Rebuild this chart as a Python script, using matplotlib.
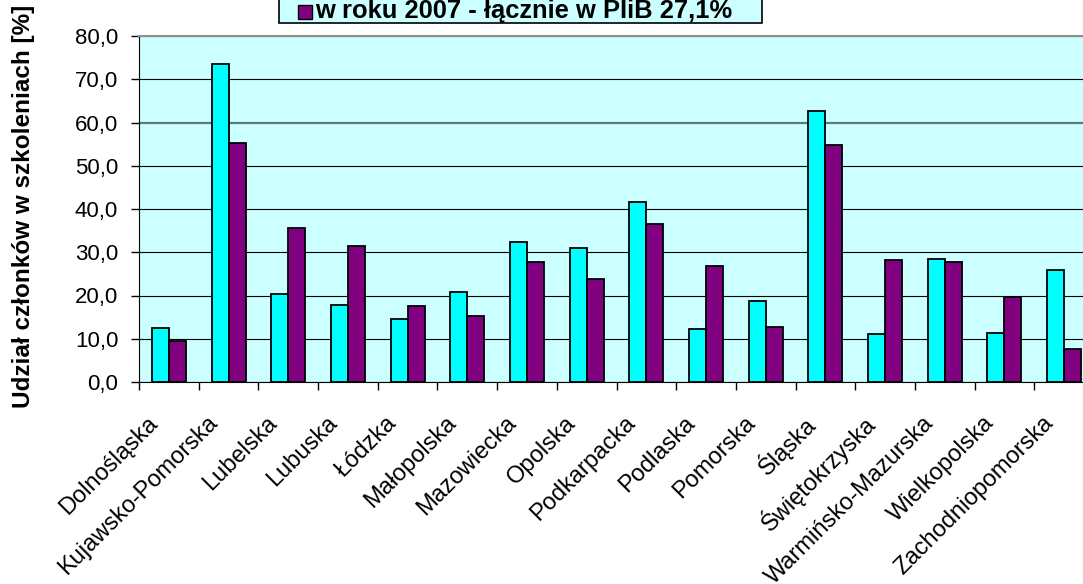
import matplotlib
matplotlib.use("Agg")
import matplotlib.pyplot as plt
from matplotlib.patches import Rectangle
from matplotlib.transforms import ScaledTranslation
import numpy as np

## data
regions = ["Dolnośląska", "Kujawsko-Pomorska", "Lubelska", "Lubuska", "Łódzka",
           "Małopolska", "Mazowiecka", "Opolska", "Podkarpacka", "Podlaska",
           "Pomorska", "Śląska", "Świętokrzyska", "Warmińsko-Mazurska",
           "Wielkopolska", "Zachodniopomorska"]
share_2006 = [12.4, 73.6, 20.4, 17.9, 14.5, 20.8, 32.3, 31.0, 41.6, 12.3,
              18.7, 62.6, 11.0, 28.5, 11.4, 26.0]
share_2007 = [9.4, 55.3, 35.7, 31.5, 17.5, 15.3, 27.7, 23.8, 36.6, 26.8,
              12.8, 54.9, 28.1, 27.7, 19.6, 7.6]
label_2007 = "w roku 2007 - łącznie w PIiB 27,1%"
y_ticks = [0, 10, 20, 30, 40, 50, 60, 70, 80]

plt.rcParams['font.family'] = ['Liberation Sans', 'DejaVu Sans']

W, H = 1083, 584
fig = plt.figure(figsize=(W / 100, H / 100), dpi=100)
fig.patch.set_facecolor("white")

## plot area (right side of the original chart is cropped)
ax = fig.add_axes([139 / W, 1 - 382 / H, (1094 - 139) / W, (382 - 36) / H])
ax.set_facecolor("#ccffff")

x = np.arange(len(regions))
bw = 0.285
ax.bar(x - bw / 2, share_2006, bw, color="#00ffff", edgecolor="black", linewidth=1.3, zorder=3)
ax.bar(x + bw / 2, share_2007, bw, color="#800080", edgecolor="black", linewidth=1.3, zorder=3)

ax.set_xlim(-0.5, len(regions) - 0.5)
ax.set_ylim(0, 80)
ax.set_yticks(y_ticks)
ax.set_yticklabels([f"{v:.1f}".replace(".", ",") for v in y_ticks], fontsize=16)
ax.yaxis.grid(True, color="black", linewidth=0.8, zorder=1)
ax.set_axisbelow(True)
ax.get_ygridlines()[6].set_color("#5f7a7a")
ax.get_ygridlines()[6].set_linewidth(1.6)

## ticks on category boundaries, labels at category centres
ax.set_xticks(np.arange(-0.5, len(regions), 1.0))
ax.set_xticklabels([])
ax.set_xticks(x, minor=True)
ax.set_xticklabels(regions, minor=True, rotation=45, ha="right", va="center",
                   rotation_mode="anchor", fontsize=17)
ax.tick_params(axis="x", which="minor", length=0, pad=20)
ax.tick_params(axis="x", which="major", direction="out", length=6, width=1)
ax.tick_params(axis="y", direction="out", length=6, width=1, pad=9)

# Excel puts the end of the rotated label a bit left of / below the centre
shift = ScaledTranslation(-14 / 100, -10 / 100, fig.dpi_scale_trans)
for lab in ax.get_xticklabels(minor=True):
    lab.set_transform(lab.get_transform() + shift)

ax.spines["top"].set_color("#909090")
ax.spines["top"].set_linewidth(1.5)
ax.spines["right"].set_visible(False)
ax.spines["left"].set_color("black")
ax.spines["bottom"].set_color("black")

fig.text(23.5 / W, 1 - 206 / H, "Udział członków w szkoleniach [%]", rotation=90,
         ha="center", va="center", fontsize=17.5, fontweight="bold")

## legend box (top part cropped in the original)
fig.patches.append(Rectangle((279 / W, 1 - 22.7 / H), 483 / W, 0.2, transform=fig.transFigure,
                             facecolor="#ccffff", edgecolor="black", linewidth=1.2))
fig.patches.append(Rectangle((298 / W, 1 - 18.5 / H), 14 / W, 14 / H, transform=fig.transFigure,
                             facecolor="#800080", edgecolor="black", linewidth=1))
fig.text(315 / W, 1 - 18.3 / H, label_2007, ha="left", va="baseline",
         fontsize=18.4, fontweight="bold")

fig.savefig("out.png", dpi=100)
